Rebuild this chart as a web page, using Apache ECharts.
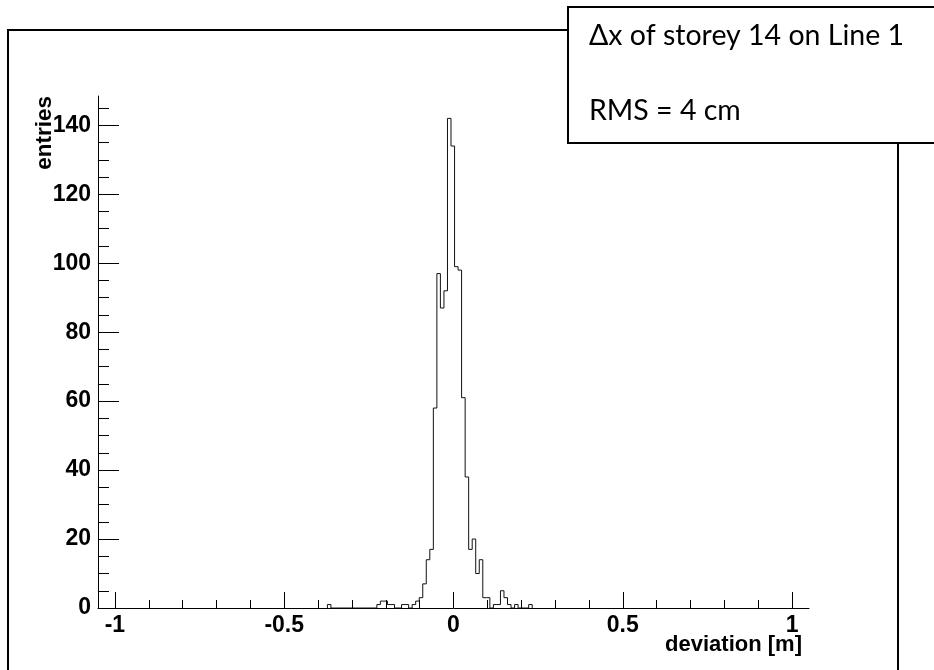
<!DOCTYPE html>
<html>
<head>
<meta charset="utf-8">
<script src="https://cdn.jsdelivr.net/npm/echarts@6/dist/echarts.min.js"></script>
<style>
html,body{margin:0;padding:0;background:#fff;}
#chart{width:934px;height:670px;}
</style>
</head>
<body>
<div id="chart"></div>
<script>
// Histogram bin edges (deviation in m) and entries per bin
var binEdges = [-0.3724,-0.3620,-0.3516,-0.3411,-0.3307,-0.3203,-0.3098,-0.2994,-0.2890,-0.2786,
  -0.2681,-0.2577,-0.2473,-0.2368,-0.2264,-0.2160,-0.2055,-0.1951,-0.1847,-0.1743,
  -0.1638,-0.1534,-0.1430,-0.1325,-0.1221,-0.1117,-0.1012,-0.0908,-0.0804,-0.0700,
  -0.0595,-0.0491,-0.0387,-0.0282,-0.0178,-0.0074,0.0031,0.0135,0.0239,0.0344,
  0.0448,0.0552,0.0656,0.0761,0.0865,0.0969,0.1074,0.1178,0.1282,0.1387,
  0.1491,0.1595,0.1699,0.1804,0.1908,0.2012,0.2117,0.2221,0.2325];
var binCounts = [1,0,0,0,0,0,0,0,0,0,
  0,0,0,0,1,2,2,1,1,0,
  0,1,1,0,1,2,3,7,14,17,
  58,97,87,92,142,134,99,98,61,38,
  17,20,10,14,3,3,0,1,1,5,
  3,1,0,1,0,0,0,1];
var xMajorTicks = [-1,-0.5,0,0.5,1];
var xMinorTicks = [-1,-0.9,-0.8,-0.7,-0.6,-0.5,-0.4,-0.3,-0.2,-0.1,0,0.1,0.2,0.3,0.4,0.5,0.6,0.7,0.8,0.9,1];
var yMajorTicks = [0,20,40,60,80,100,120,140];
var yMinorTicks = [0,5,10,15,20,25,30,35,40,45,50,55,60,65,70,75,80,85,90,95,100,105,110,115,120,125,130,135,140,145];
var xTitle = 'deviation [m]';
var yTitle = 'entries';
var boxLine1 = '\u0394x of storey 14 on Line 1';
var boxLine2 = 'RMS = 4 cm';

// build step outline of histogram
var outline = [[binEdges[0], 0]];
for (var i = 0; i < binCounts.length; i++) {
  outline.push([binEdges[i], binCounts[i]]);
  outline.push([binEdges[i + 1], binCounts[i]]);
}
outline.push([binEdges[binEdges.length - 1], 0]);

var chart = echarts.init(document.getElementById('chart'), null, {renderer: 'canvas'});
var boldFont = '"Liberation Sans", Arial, sans-serif';
var option = {
  animation: false,
  backgroundColor: '#fff',
  grid: {left: 98, right: 125, top: 96, bottom: 62},
  xAxis: [{
    type: 'value', min: -1.05, max: 1.05, position: 'bottom',
    axisLine: {show: true, onZero: false, lineStyle: {color: '#000', width: 1}},
    axisTick: {show: true, inside: true, length: 16, customValues: xMajorTicks, lineStyle: {color: '#000'}},
    axisLabel: {show: true, customValues: xMajorTicks, margin: 6, color: '#000',
      fontFamily: boldFont, fontWeight: 'bold', fontSize: 23},
    splitLine: {show: false}
  }, {
    type: 'value', min: -1.05, max: 1.05, position: 'bottom',
    axisLine: {show: false, onZero: false},
    axisTick: {show: true, inside: true, length: 8, customValues: xMinorTicks, lineStyle: {color: '#000'}},
    axisLabel: {show: false},
    splitLine: {show: false}
  }],
  yAxis: [{
    type: 'value', min: 0, max: 148.5, position: 'left',
    axisLine: {show: true, onZero: false, lineStyle: {color: '#000', width: 1}},
    axisTick: {show: true, inside: true, length: 21, customValues: yMajorTicks, lineStyle: {color: '#000'}},
    axisLabel: {show: true, customValues: yMajorTicks, margin: 7, color: '#000',
      fontFamily: boldFont, fontWeight: 'bold', fontSize: 23},
    splitLine: {show: false}
  }, {
    type: 'value', min: 0, max: 148.5, position: 'left',
    axisLine: {show: false, onZero: false},
    axisTick: {show: true, inside: true, length: 11, customValues: yMinorTicks, lineStyle: {color: '#000'}},
    axisLabel: {show: false},
    splitLine: {show: false}
  }],
  series: [{
    type: 'line',
    xAxisIndex: 0, yAxisIndex: 0,
    data: outline,
    showSymbol: false,
    symbol: 'none',
    lineStyle: {color: '#111', width: 1},
    clip: true
  }],
  graphic: [
    {type: 'rect', shape: {x: 8, y: 30, width: 890, height: 700},
      style: {fill: null, stroke: '#000', lineWidth: 2}, silent: true},
    {type: 'rect', shape: {x: 568, y: 7, width: 400, height: 136},
      style: {fill: '#fff', stroke: '#000', lineWidth: 2}, silent: true},
    {type: 'text', x: 589, y: 36,
      style: {text: boxLine1, fill: '#000', font: '28.5px Lato, "Open Sans", sans-serif',
        align: 'left', verticalAlign: 'middle'}},
    {type: 'text', x: 589, y: 111,
      style: {text: boxLine2, fill: '#000', font: '28.5px Lato, "Open Sans", sans-serif',
        align: 'left', verticalAlign: 'middle'}},
    {type: 'text', x: 45, y: 96, rotation: Math.PI / 2,
      style: {text: yTitle, fill: '#000', font: 'bold 22.5px "Liberation Sans", Arial, sans-serif',
        align: 'right', verticalAlign: 'middle'}},
    {type: 'text', x: 802, y: 645,
      style: {text: xTitle, fill: '#000', font: 'bold 22px "Liberation Sans", Arial, sans-serif',
        align: 'right', verticalAlign: 'middle'}}
  ]
};
chart.setOption(option);
</script>
</body>
</html>
